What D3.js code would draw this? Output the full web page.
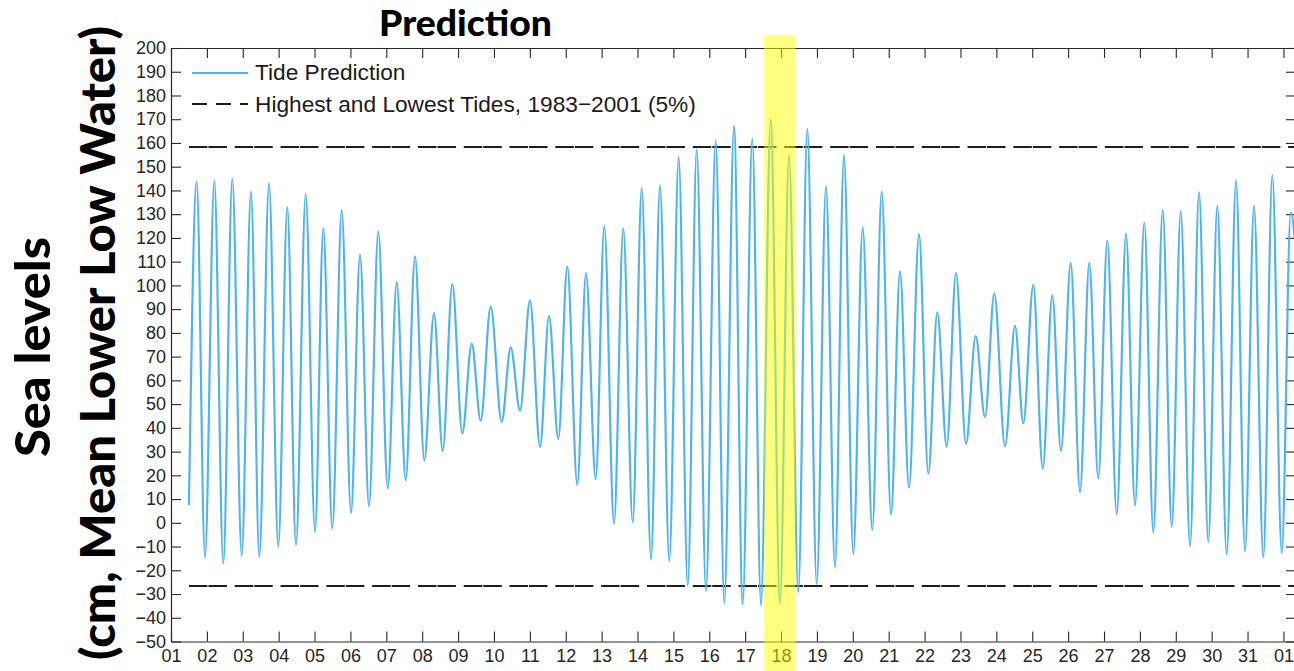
<!DOCTYPE html>
<html><head><meta charset="utf-8">
<script src="https://cdn.jsdelivr.net/npm/d3@7"></script>
<style>
body{margin:0;background:#fff;overflow:hidden}
svg{display:block}
</style>
</head><body>
<script>
// ---- data (days of month, sea level in cm MLLW) ----
const tideDays = [
 1.50, 1.716, 1.947, 2.207, 2.457, 2.708, 2.970, 3.229, 3.461, 3.731,
 3.990, 4.241, 4.483, 4.754, 5.013, 5.244, 5.495, 5.757, 6.016, 6.267,
 6.518, 6.777, 7.039, 7.290, 7.540, 7.800, 8.059, 8.329, 8.571, 8.839,
 9.118, 9.380, 9.630, 9.909, 10.215, 10.466, 10.726, 11.004, 11.283, 11.534,
 11.793, 12.044, 12.322, 12.565, 12.835, 13.075, 13.345, 13.604, 13.866, 14.117,
 14.376, 14.627, 14.886, 15.148, 15.399, 15.650, 15.909, 16.179, 16.419,
 16.689, 16.931, 17.199, 17.441, 17.711, 17.970, 18.222, 18.481, 18.732, 18.994,
 19.253, 19.503, 19.754, 20.013, 20.275, 20.543, 20.805, 21.064, 21.315, 21.566,
 21.844, 22.104, 22.354, 22.616, 22.875, 23.154, 23.424, 23.683, 23.943,
 24.241, 24.520, 24.751, 25.029, 25.291, 25.559, 25.801, 26.072, 26.331, 26.590,
 26.841, 27.092, 27.354, 27.613, 27.864, 28.123, 28.374, 28.636, 28.887, 29.138,
 29.397, 29.648, 29.906, 30.157, 30.419, 30.678, 30.929, 31.180, 31.439, 31.690,
 31.952, 32.203, 32.36
];
const tideLevels = [
 7.5, 143.7, -14.6, 144.1, -17.2, 145.1, -13.7, 139.5, -14.4, 143,
 -10.1, 133, -9.4, 138.5, -3.8, 124, -2.4, 131.7, 4.2, 113,
 7, 122.7, 14.5, 101.4, 18, 112.2, 26.3, 88.3, 30.3, 100.5,
 37.7, 75.5, 43, 91.1, 42.5, 73.9, 47.3, 93.7, 32, 87.1,
 35.3, 108, 16, 105.2, 18.4, 125, -0.4, 124, 0.2, 141.1,
 -15.4, 142.2, -16.2, 154, -26.6, 157.2, -28.7, 161, -33.9,
 167.1, -34.3, 161.8, -34.8, 169.9, -33.9, 155.1, -29.2, 165.9, -25.8,
 141.7, -18.7, 154.9, -13.1, 124.5, -3, 139.6, 3.4, 105.9, 14.7,
 121.6, 20.7, 88.7, 32.1, 105.2, 33.2, 78.6, 44.5, 96.7,
 32.2, 83, 41.9, 100.2, 22.9, 95.8, 30.3, 109.5, 12.9, 109.5,
 18.6, 118.8, 3.6, 121.8, 7.3, 126.5, -4, 131.8, -1.6, 131.3,
 -9.9, 139.3, -8, 133.5, -13.3, 144.4, -12, 133.6, -14.5, 146.5,
 -12.8, 130.7, 112
];
const extremeLevels = [158.3, -26.6];          // Highest and Lowest Tides, 1983-2001 (5%)
const extremeSpan = [1.5, 32.36];              // days covered by the dashed lines
const highlightSpan = [17.53, 18.40];          // highlighted day
const xTickDays = [1,2,3,4,5,6,7,8,9,10,11,12,13,14,15,16,17,18,19,20,21,22,23,24,25,26,27,28,29,30,31,32];
const xTickLabels = ["01","02","03","04","05","06","07","08","09","10","11","12","13","14","15","16",
                     "17","18","19","20","21","22","23","24","25","26","27","28","29","30","31","01"];
const yTicks = [-50,-40,-30,-20,-10,0,10,20,30,40,50,60,70,80,90,100,110,120,130,140,150,160,170,180,190,200];
const legendLabels = ["Tide Prediction", "Highest and Lowest Tides, 1983\u22122001 (5%)"];
const titleText = "Prediction";
const yLabelLines = ["Sea levels", "(cm, Mean Lower Low Water)"];

// ---- layout ----
const W = 1294, H = 671;
const L = 171, R = 1296, T = 48, B = 641.5;
const axisColor = "#262626";
const tideColor = "#4fb4ea";

const svg = d3.select("body").append("svg").attr("width", W).attr("height", H);

const x = d3.scaleLinear().domain([1, 32.35]).range([L, R]);
const y = d3.scaleLinear().domain([-50, 200]).range([B, T]);

svg.append("defs").append("clipPath").attr("id", "plotclip")
  .append("rect").attr("x", L).attr("y", T).attr("width", R - L).attr("height", B - T);

const tide = tideDays.map((d, i) => ({day: d, level: tideLevels[i]}));

// axes
const fontTick = "'Liberation Sans', Arial, sans-serif";
function styleAxis(g) {
  g.selectAll(".domain").attr("stroke", axisColor).attr("stroke-width", 1.2);
  g.selectAll(".tick line").attr("stroke", axisColor).attr("stroke-width", 1.1);
  g.selectAll(".tick text").attr("fill", axisColor).style("font-family", fontTick).style("font-size", "18px");
}
svg.append("g").attr("transform", `translate(0,${B})`)
  .call(d3.axisBottom(x).tickValues(xTickDays).tickFormat((d, i) => xTickLabels[i])
        .tickSizeInner(-10).tickSizeOuter(0).tickPadding(8))
  .call(styleAxis);
svg.append("g").attr("transform", `translate(0,${T})`)
  .call(d3.axisTop(x).tickValues(xTickDays).tickFormat("").tickSizeInner(-10).tickSizeOuter(0))
  .call(styleAxis);
svg.append("g").attr("transform", `translate(${L},0)`)
  .call(d3.axisLeft(y).tickValues(yTicks).tickFormat(d3.format("d"))
        .tickSizeInner(-10).tickSizeOuter(0).tickPadding(5))
  .call(styleAxis);
svg.append("g").attr("transform", `translate(${R},0)`)
  .call(d3.axisRight(y).tickValues(yTicks).tickFormat("").tickSizeInner(-10).tickSizeOuter(0))
  .call(styleAxis);

// dashed extreme lines
svg.append("g").attr("clip-path", "url(#plotclip)")
  .selectAll("line").data(extremeLevels).join("line")
  .attr("x1", x(extremeSpan[0])).attr("x2", x(extremeSpan[1]))
  .attr("y1", d => y(d)).attr("y2", d => y(d))
  .attr("stroke", "#1e1e1e").attr("stroke-width", 2)
  .attr("stroke-dasharray", "18.5,1,18.5,7.8");

// tide curve
const line = d3.line().x(d => x(d.day)).y(d => y(d.level)).curve(d3.curveMonotoneX);
svg.append("path").datum(tide)
  .attr("clip-path", "url(#plotclip)")
  .attr("d", line)
  .attr("fill", "none").attr("stroke", tideColor).attr("stroke-width", 2.2);

// legend
const lg = svg.append("g");
lg.append("line").attr("x1", 192).attr("x2", 248).attr("y1", 73).attr("y2", 73)
  .attr("stroke", tideColor).attr("stroke-width", 2);
lg.append("line").attr("x1", 192).attr("x2", 248).attr("y1", 104).attr("y2", 104)
  .attr("stroke", "#1e1e1e").attr("stroke-width", 2).attr("stroke-dasharray", "15,9");
lg.selectAll("text").data(legendLabels).join("text")
  .attr("x", 255).attr("y", (d, i) => 80 + i * 31.5)
  .attr("fill", "#1a1a1a").style("font-family", fontTick).style("font-size", "22.7px")
  .text(d => d);

// title
svg.append("text").attr("x", 379).attr("y", 36)
  .attr("textLength", 173).attr("lengthAdjust", "spacingAndGlyphs")
  .style("font-family", "Lato, 'DejaVu Sans', sans-serif").style("font-weight", 900)
  .style("font-size", "36px").attr("fill", "#000").text(titleText);

// y label
const ylab = [{t: yLabelLines[0], bx: 50, cy: 347, len: 220}, {t: yLabelLines[1], bx: 115, cy: 343, len: 634}];
svg.selectAll("text.ylab").data(ylab).join("text").attr("class", "ylab")
  .attr("transform", d => `translate(${d.bx},${d.cy}) rotate(-90)`)
  .attr("text-anchor", "middle")
  .attr("textLength", d => d.len).attr("lengthAdjust", "spacingAndGlyphs")
  .style("font-family", "Lato, 'DejaVu Sans', sans-serif").style("font-weight", 900)
  .style("font-size", "47px").attr("fill", "#000").text(d => d.t);

// highlight band (over everything)
svg.append("rect")
  .attr("x", x(highlightSpan[0])).attr("width", x(highlightSpan[1]) - x(highlightSpan[0]))
  .attr("y", 35).attr("height", H - 35)
  .attr("fill", "#ffff00").attr("opacity", 0.5);
</script>
</body></html>
